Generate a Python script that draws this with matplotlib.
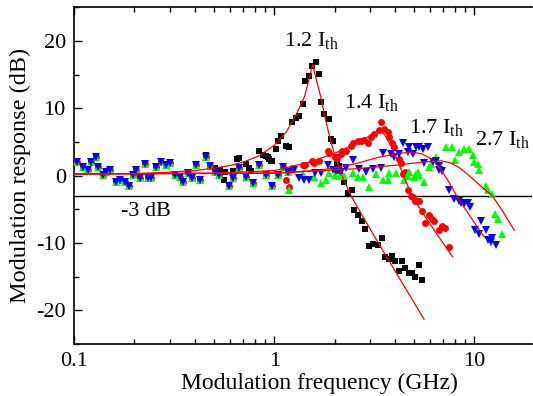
import matplotlib
matplotlib.use('Agg')
import matplotlib.pyplot as plt
import numpy as np
from matplotlib.ticker import FixedLocator, NullFormatter, MultipleLocator

plt.rcParams['font.family'] = ['Liberation Serif', 'DejaVu Serif']
plt.rcParams['mathtext.fontset'] = 'custom'
plt.rcParams['mathtext.rm'] = 'Liberation Serif'
plt.rcParams['mathtext.it'] = 'Liberation Serif:italic'
plt.rcParams['axes.unicode_minus'] = False

# common low-frequency part (all curves overlap here)
f_low = [0.103, 0.111, 0.118, 0.122, 0.128, 0.132, 0.139, 0.145, 0.152, 0.162,
         0.169, 0.179, 0.188, 0.197, 0.205, 0.213, 0.226, 0.234, 0.243, 0.258,
         0.273, 0.288, 0.301, 0.319, 0.338, 0.351, 0.372, 0.386, 0.406, 0.425,
         0.455, 0.48, 0.505, 0.531, 0.596, 0.619, 0.668, 0.722, 0.779, 0.835,
         0.909, 0.974, 1.04, 1.10, 1.17]
db_low = [1.97, 1.33, 0.9, 2.07, 2.7, 1.33, 0.1, 0.6, 0.85, -0.9,
          -0.6, -0.9, -1.6, 0.1, 0.85, -0.4, 1.73, -0.4, -0.4, 1.33,
          2.07, 1.6, 1.8, 0.1, -0.15, -0.9, 0.35, -0.4, 1.6, -0.6,
          2.8, 1.5, 0.6, 0.1, -1.6, -0.4, 1.1, -0.15, -1.1, 1.6,
          0.1, -1.6, 0.1, 1.33, 0.6]

# 1.2 Ith (black squares)
f12 = [0.455, 0.477, 0.505, 0.535, 0.55, 0.56, 0.57, 0.62, 0.655, 0.668,
       0.722, 0.75, 0.765, 0.84, 0.874, 0.909, 0.93, 0.944, 0.96, 0.98,
       1.02, 1.04, 1.08, 1.14, 1.19, 1.23, 1.28, 1.33, 1.39, 1.43,
       1.50, 1.55, 1.62, 1.67, 1.71, 1.78, 1.88, 1.92, 1.96, 2.03,
       2.07, 2.11, 2.13, 2.24, 2.33, 2.45, 2.51, 2.61, 2.74, 2.85,
       2.96, 3.10, 3.28, 3.45, 3.59, 3.76, 3.88, 4.03, 4.2, 4.35,
       4.52, 4.69, 4.85, 5.03, 5.27, 5.46]
db12 = [3.0, 1.6, 1.2, 0.85, 0.6, -0.7, 0.5, 0.7, 2.5, 2.6,
        1.7, 1.2, 0.7, 3.7, 3.0, 2.96, 2.8, 2.47, 2.1, 2.2,
        4.0, 5.2, 5.9, 4.4, 4.3, 7.9, 8.6, 8.9, 10.6, 14.1,
        14.8, 16.3, 16.8, 15.1, 10.9, 9.1, 8.4, 5.4, 5.2, 2.7,
        1.7, 1.5, 0.7, -0.9, -2.6, -2.1, -5.1, -5.8, -6.8, -7.9,
        -10.4, -10.1, -10.3, -9.3, -12.1, -12.3, -11.9, -12.6, -14.2, -12.6,
        -13.7, -14.4, -14.4, -15.0, -13.2, -15.5]

# 1.4 Ith (red circles)
f14 = [1.14, 1.19, 1.23, 1.39, 1.43, 1.54, 1.58, 1.67, 1.85, 1.88,
       2.0, 2.07, 2.15, 2.19, 2.28, 2.41, 2.46, 2.61, 2.71, 2.82,
       2.93, 3.04, 3.16, 3.33, 3.42, 3.55, 3.69, 3.76, 3.88, 3.98,
       4.22, 4.30, 4.42, 4.52, 4.64, 4.82, 4.92, 5.07, 5.2, 5.31,
       5.48, 5.69, 5.9, 6.14, 6.3, 6.64, 6.9, 7.17, 7.46]
db14 = [-0.7, -1.7, 1.1, 1.6, 1.6, 2.1, 1.8, 2.2, 3.6, 3.3,
        2.8, 2.6, 3.2, 3.6, 3.7, 4.4, 4.9, 5.2, 5.2, 5.3,
        4.9, 5.7, 6.2, 6.7, 8.0, 6.9, 6.4, 5.7, 4.9, 4.2,
        2.5, 1.8, 0.25, 0.5, -2.2, -3.0, -3.2, -3.7, -3.7, -3.8,
        -5.2, -7.1, -5.9, -6.4, -6.8, -8.0, -7.5, -7.7, -10.6]

# 1.7 Ith (blue down triangles)
f17 = [1.26, 1.33, 1.41, 1.50, 1.60, 1.71, 1.85, 1.96, 2.03, 2.15,
       2.28, 2.46, 2.66, 2.88, 3.1, 3.42, 3.48, 3.83, 3.98, 4.22,
       4.39, 4.64, 4.73, 4.92, 5.11, 5.31, 5.56, 5.62, 5.84, 6.2,
       6.43, 6.63, 6.68, 6.92, 7.46, 7.94, 8.34, 8.57, 8.91, 9.25,
       9.51, 10.1, 10.5, 10.8, 11.4, 11.7, 12.1, 12.2, 12.8]
db17 = [0.85, -0.4, -0.6, -0.6, 0.35, 0.35, 1.6, 0.85, 0.7, 0.5,
        1.2, 2.3, 1.0, 0.5, 1.0, 1.2, 3.3, 3.2, 2.7, 3.2,
        4.8, 3.5, 4.2, 3.2, 4.2, 4.2, 4.0, 1.8, 4.2, 2.0,
        2.2, 1.5, 0.8, 0.7, -2.1, -3.5, -3.7, -4.0, -4.2, -4.0,
        -4.7, -8.0, -8.7, -6.7, -8.0, -9.5, -9.9, -9.3, -10.3]

# 2.7 Ith (green up triangles)
f27 = [1.19, 1.39, 1.58, 1.71, 1.81, 1.88, 2.0, 2.11, 2.24, 2.46,
       2.61, 2.76, 2.98, 3.22, 3.48, 3.69, 3.76, 4.06, 4.47, 4.64,
       4.73, 5.0, 5.11, 5.2, 5.31, 5.62, 5.9, 6.07, 6.43, 7.2,
       7.7, 8.03, 8.4, 8.9, 9.37, 9.8, 10.0, 10.4, 10.6, 11.4,
       11.7, 12.3, 12.6, 13.1, 13.75]
db27 = [-2.2, 0.25, -0.25, -1.1, -0.6, 0.35, 0.15, 0.0, 0.0, 0.35,
        -0.15, -0.15, -1.7, 0.25, -0.7, -0.7, 0.35, 0.35, -0.6, 0.0,
        0.5, -0.25, 0.25, 0.5, 0.15, -1.0, 1.3, 1.7, 2.7, 4.2,
        4.2, 2.3, 3.45, 3.95, 3.95, 3.0, 2.0, 1.7, 0.8, -1.5,
        -2.2, -2.8, -5.7, -6.4, -8.7]

# fitted response curves
fit12_f = [0.1, 0.2, 0.3, 0.4, 0.5, 0.6, 0.7, 0.85, 1.0, 1.15, 1.3, 1.42, 1.5,
           1.555, 1.62, 1.71, 1.81, 1.92, 2.05, 2.2, 2.42, 2.8, 3.5, 4.5, 5.6]
fit12_db = [0.25, 0.3, 0.5, 0.75, 1.1, 1.5, 2.0, 3.0, 4.5, 6.5, 9.3, 11.8, 14.6,
            16.5, 14.3, 11.6, 8.1, 5.0, 2.2, -0.3, -3.0, -6.3, -11.2, -16.6, -21.3]
fit14_f = [0.1, 0.5, 1.0, 1.5, 2.0, 2.5, 3.0, 3.2, 3.35, 3.55, 3.8, 4.1, 4.4,
           4.87, 5.5, 6.5, 7.76]
fit14_db = [0.25, 0.35, 0.75, 2.0, 3.3, 4.6, 5.9, 6.4, 6.6, 6.1, 4.6, 2.4, 0.2,
            -3.0, -5.5, -8.7, -12.0]
fit17_f = [0.1, 1.0, 1.7, 2.5, 3.3, 4.2, 4.9, 5.5, 6.0, 6.7, 7.4, 8.15, 9.6, 11.2]
fit17_db = [0.25, 0.4, 0.8, 1.7, 2.7, 3.3, 3.5, 3.2, 2.6, 1.2, -0.8, -3.0, -6.2, -9.1]
fit27_f = [0.1, 1.0, 2.5, 3.3, 4.2, 5.5, 6.8, 7.6, 8.4, 9.5, 11.0, 12.3, 14.0, 15.8]
fit27_db = [0.25, 0.35, 1.0, 1.3, 1.6, 2.0, 2.2, 1.9, 1.2, -0.1, -1.8, -3.0, -5.5, -8.1]

labels = ['1.2 I$_{\\mathrm{th}}$', '1.4 I$_{\\mathrm{th}}$',
          '1.7 I$_{\\mathrm{th}}$', '2.7 I$_{\\mathrm{th}}$']
label_f = [1.12, 2.24, 4.73, 10.1]
label_db = [20.0, 10.8, 7.1, 5.3]

fig, ax = plt.subplots(figsize=(5.33, 3.96), dpi=100)
fig.subplots_adjust(left=0.139, right=0.999, bottom=0.131, top=0.982)

black_f = [f for f in f_low if f < 0.45] + f12
black_db = [d for f, d in zip(f_low, db_low) if f < 0.45] + db12
ax.plot(black_f, black_db, 's', color='black', ms=4.2, mew=0, zorder=2)
ax.plot(f_low + f14, db_low + db14, 'o', color='#ff0000', ms=5, mew=0, zorder=3)
ax.plot(f_low + f27, db_low + db27, '^', color='#00ff00', ms=5.5, mew=0, zorder=4)
ax.plot(f_low + f17, db_low + db17, 'v', color='#0000ff', ms=5.5, mew=0, zorder=5)

for ff, dd in [(fit12_f, fit12_db), (fit14_f, fit14_db),
               (fit17_f, fit17_db), (fit27_f, fit27_db)]:
    ax.plot(ff, dd, '-', color='#ff0000', lw=0.9, zorder=6)

ax.axhline(-3, color='black', lw=1.0, zorder=1)
ax.text(0.172, -5.3, '-3 dB', fontsize=16, va='center', ha='left')
for lab, x, y in zip(labels, label_f, label_db):
    ax.text(x, y, lab, fontsize=16, va='center', ha='left')

ax.set_xscale('log')
ax.set_xlim(0.1, 19.5)
ax.set_ylim(-25, 25)
ax.xaxis.set_major_locator(FixedLocator([0.1, 1, 10]))
ax.set_xticklabels(['0.1', '1', '10'])
ax.xaxis.set_minor_locator(FixedLocator(
    [m * 10.0 ** e for e in (-1, 0, 1) for m in range(2, 10)]))
ax.xaxis.set_minor_formatter(NullFormatter())
ax.yaxis.set_major_locator(FixedLocator([-20, -10, 0, 10, 20]))
ax.yaxis.set_minor_locator(MultipleLocator(5))

ax.tick_params(which='both', direction='in', top=True, right=False,
               labelsize=16, width=1.0)
ax.tick_params(which='major', length=6, pad=6)
ax.tick_params(which='minor', length=3.5)
ax.spines['right'].set_visible(False)
for s in ['left', 'bottom', 'top']:
    ax.spines[s].set_linewidth(1.2)

ax.set_xlabel('Modulation frequency (GHz)', fontsize=17)
ax.xaxis.set_label_coords(0.536, -0.085)
ax.set_ylabel('Modulation response (dB)', fontsize=17.5, labelpad=4)

plt.savefig('out.png', dpi=100)
